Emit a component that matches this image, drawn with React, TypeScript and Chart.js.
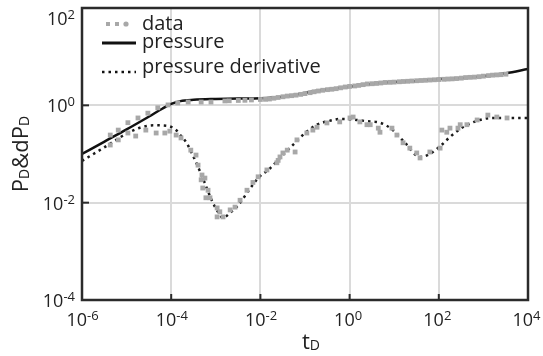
import React, { useEffect, useRef } from 'react';
import { Chart, registerables } from 'chart.js';

Chart.register(...registerables);

// ---- axes ----
const X_TICKS = [1e-6, 1e-4, 1e-2, 1e0, 1e2, 1e4];
const X_TICK_EXPONENTS = ['-6', '-4', '-2', '0', '2', '4'];
const Y_TICKS = [1e-4, 1e-2, 1e0, 1e2];
const Y_TICK_EXPONENTS = ['-4', '-2', '0', '2'];

// ---- model curves ----
const pressureT = [1e-6, 3.2e-6, 1e-5, 3.2e-5, 6.3e-5, 1e-4, 1.6e-4, 3.2e-4, 1e-3, 3.2e-3, 0.01, 0.032, 0.1, 0.32, 1, 3.2, 10, 32, 100, 320, 1000, 3200, 10000];
const pressureP = [0.1, 0.18, 0.32, 0.59, 0.85, 1.07, 1.22, 1.3, 1.35, 1.38, 1.4, 1.5, 1.8, 2.14, 2.4, 2.75, 3.0, 3.16, 3.47, 3.63, 4.0, 4.57, 5.6];

const derivT = [1e-6, 2.5e-6, 5e-6, 1e-5, 2e-5, 4e-5, 8e-5, 1.26e-4, 1.6e-4, 2.2e-4, 3.4e-4, 5.6e-4, 8.1e-4, 1.05e-3, 1.45e-3, 2.1e-3, 3.2e-3, 5e-3, 8.9e-3, 0.0166, 0.0275, 0.06, 0.1, 0.186, 0.355, 0.63, 1.26, 2.5, 4.8, 9.3, 17.4, 38, 63, 117, 178, 347, 830, 1660, 4570, 10000];
const derivP = [0.072, 0.12, 0.178, 0.263, 0.347, 0.389, 0.38, 0.316, 0.245, 0.17, 0.076, 0.026, 0.0112, 0.0071, 0.0049, 0.0062, 0.0089, 0.0158, 0.032, 0.051, 0.083, 0.17, 0.27, 0.4, 0.48, 0.525, 0.51, 0.47, 0.44, 0.31, 0.17, 0.087, 0.1, 0.155, 0.224, 0.355, 0.5, 0.55, 0.55, 0.55];

// ---- measured data ----
const dataPressureT = [4.3e-6, 6.5e-6, 1.07e-5, 1.8e-5, 3e-5, 5e-5, 8.5e-5, 1.4e-4, 2.4e-4, 4.7e-4, 7.8e-4, 1.6e-3, 2e-3, 3.2e-3, 4.5e-3, 6.3e-3, 0.01, 0.013, 0.016, 0.02, 0.025, 0.032, 0.04, 0.05, 0.063, 0.08, 0.1, 0.13, 0.16, 0.2, 0.25, 0.32, 0.4, 0.5, 0.63, 0.8, 1.0, 1.3, 1.6, 2, 2.5, 3.2, 4.0, 5, 6.3, 8, 10, 13, 16, 20, 25, 32, 40, 50, 63, 80, 100, 130, 160, 200, 250, 320, 400, 500, 630, 800, 1000, 1300, 1600, 2000, 2500, 3200];
const dataPressureP = [0.245, 0.31, 0.44, 0.55, 0.69, 0.89, 1.02, 1.12, 1.17, 1.17, 1.17, 1.23, 1.24, 1.26, 1.27, 1.29, 1.32, 1.33, 1.35, 1.4, 1.45, 1.5, 1.55, 1.58, 1.62, 1.68, 1.74, 1.82, 1.9, 1.97, 2.04, 2.1, 2.14, 2.2, 2.29, 2.38, 2.45, 2.5, 2.57, 2.66, 2.75, 2.78, 2.82, 2.88, 2.95, 2.97, 3.0, 3.05, 3.09, 3.12, 3.16, 3.2, 3.24, 3.27, 3.31, 3.35, 3.39, 3.43, 3.47, 3.5, 3.55, 3.62, 3.72, 3.76, 3.8, 3.88, 3.98, 4.08, 4.17, 4.22, 4.27, 4.37];

const dataDerivT = [4.3e-6, 6.5e-6, 1.07e-5, 1.6e-5, 2.7e-5, 4.6e-5, 7.2e-5, 9.3e-5, 1.29e-4, 1.66e-4, 2.75e-4, 3.6e-4, 4e-4, 4.7e-4, 4.9e-4, 5.1e-4, 5.7e-4, 6e-4, 6.7e-4, 7.4e-4, 1.07e-3, 1.07e-3, 1.23e-3, 1.45e-3, 2.1e-3, 2.7e-3, 3.5e-3, 5e-3, 6.8e-3, 8.9e-3, 0.014, 0.0234, 0.025, 0.0275, 0.032, 0.04, 0.06, 0.066, 0.11, 0.15, 0.186, 0.31, 0.6, 1.02, 1.2, 1.7, 2.45, 2.9, 4.4, 4.8, 8.9, 11.5, 15.8, 22.4, 32, 38, 63, 107, 117, 151, 178, 269, 302, 427, 724, 1260, 2000, 3390];
const dataDerivP = [0.153, 0.195, 0.27, 0.234, 0.31, 0.27, 0.27, 0.295, 0.245, 0.214, 0.12, 0.095, 0.059, 0.0295, 0.037, 0.02, 0.032, 0.0126, 0.018, 0.0126, 0.0078, 0.0051, 0.0065, 0.0051, 0.0071, 0.0081, 0.0112, 0.018, 0.026, 0.034, 0.047, 0.066, 0.074, 0.087, 0.105, 0.12, 0.11, 0.195, 0.27, 0.31, 0.355, 0.435, 0.457, 0.55, 0.575, 0.457, 0.4, 0.4, 0.34, 0.28, 0.34, 0.245, 0.17, 0.132, 0.105, 0.083, 0.11, 0.132, 0.31, 0.28, 0.34, 0.34, 0.4, 0.4, 0.5, 0.63, 0.575, 0.55];

// ---- text ----
const LEGEND_LABELS = ['data', 'pressure', 'pressure derivative'];
const X_TITLE: [string, boolean][] = [['t', false], ['D', true]];
const Y_TITLE: [string, boolean][] = [['P', false], ['D', true], ['&dP', false], ['D', true]];

const FONT = '"Open Sans", "DejaVu Sans", sans-serif';
const TEXT_COLOR = '#222';
const DATA_COLOR = '#a8a8a8';

const zip = (xs: number[], ys: number[]) => xs.map((x, i) => ({ x, y: ys[i] }));

function drawPower(ctx: CanvasRenderingContext2D, left: number, baseline: number, exp: string) {
  ctx.font = `18px ${FONT}`;
  ctx.textAlign = 'left';
  ctx.textBaseline = 'alphabetic';
  ctx.fillText('10', left, baseline);
  const w = ctx.measureText('10').width;
  ctx.font = `13px ${FONT}`;
  ctx.fillText(exp, left + w, baseline - 6);
}

function powerWidth(ctx: CanvasRenderingContext2D, exp: string) {
  ctx.font = `18px ${FONT}`;
  const w1 = ctx.measureText('10').width;
  ctx.font = `13px ${FONT}`;
  return w1 + ctx.measureText(exp).width;
}

function drawSubText(ctx: CanvasRenderingContext2D, parts: [string, boolean][], x: number, baseline: number, big: number, small: number, measureOnly = false) {
  let cx = x;
  for (const [s, sub] of parts) {
    ctx.font = `${sub ? small : big}px ${FONT}`;
    if (!measureOnly) ctx.fillText(s, cx, baseline + (sub ? 1 : 0));
    cx += ctx.measureText(s).width;
  }
  return cx - x;
}

const decorPlugin = {
  id: 'decor',
  afterDraw(chart: any) {
    const ctx: CanvasRenderingContext2D = chart.ctx;
    const a = chart.chartArea;
    const xs = chart.scales.x;
    const ys = chart.scales.y;
    ctx.save();

    // frame
    ctx.strokeStyle = '#2b2b2b';
    ctx.lineWidth = 2.5;
    ctx.strokeRect(a.left, a.top, a.right - a.left, a.bottom - a.top);

    // inward tick marks
    ctx.lineWidth = 2;
    X_TICKS.forEach((v) => {
      const x = xs.getPixelForValue(v);
      ctx.beginPath();
      ctx.moveTo(x, a.bottom);
      ctx.lineTo(x, a.bottom - 6);
      ctx.stroke();
    });
    Y_TICKS.forEach((v) => {
      const y = ys.getPixelForValue(v);
      ctx.beginPath();
      ctx.moveTo(a.left, y);
      ctx.lineTo(a.left + 7, y);
      ctx.stroke();
    });

    // tick labels
    ctx.fillStyle = TEXT_COLOR;
    X_TICKS.forEach((v, i) => {
      const x = xs.getPixelForValue(v);
      drawPower(ctx, x - 15.5, a.bottom + 26, X_TICK_EXPONENTS[i]);
    });
    Y_TICKS.forEach((v, i) => {
      const y = ys.getPixelForValue(v);
      const w = powerWidth(ctx, Y_TICK_EXPONENTS[i]);
      drawPower(ctx, a.left - 7 - w, Math.max(25, y + 7), Y_TICK_EXPONENTS[i]);
    });

    // x title
    const xw = drawSubText(ctx, X_TITLE, 0, 0, 22, 14, true);
    drawSubText(ctx, X_TITLE, (a.left + a.right) / 2 + 6 - xw / 2, 349, 22, 14);

    // y title (rotated)
    ctx.save();
    const yw = drawSubText(ctx, Y_TITLE, 0, 0, 22, 14, true);
    ctx.translate(28, (a.top + a.bottom) / 2);
    ctx.rotate(-Math.PI / 2);
    drawSubText(ctx, Y_TITLE, -yw / 2, 0, 22, 14);
    ctx.restore();

    // legend
    const lx = 142;
    ctx.font = `20px ${FONT}`;
    ctx.fillStyle = TEXT_COLOR;
    ctx.textAlign = 'left';
    ctx.fillText(LEGEND_LABELS[0], lx, 30);
    ctx.fillText(LEGEND_LABELS[1], lx, 48);
    ctx.fillText(LEGEND_LABELS[2], lx, 73);

    ctx.fillStyle = DATA_COLOR;
    ctx.fillRect(106, 22, 4, 4);
    ctx.fillRect(115, 22, 4, 4);
    ctx.beginPath();
    ctx.arc(126, 24, 2.6, 0, Math.PI * 2);
    ctx.fill();

    ctx.strokeStyle = '#111';
    ctx.lineWidth = 3;
    ctx.setLineDash([]);
    ctx.beginPath();
    ctx.moveTo(102, 43);
    ctx.lineTo(136, 43);
    ctx.stroke();

    ctx.lineWidth = 2.5;
    ctx.setLineDash([2.5, 4]);
    ctx.beginPath();
    ctx.moveTo(102, 72);
    ctx.lineTo(136, 72);
    ctx.stroke();

    ctx.restore();
  },
};

export default function App() {
  const ref = useRef<HTMLCanvasElement | null>(null);

  useEffect(() => {
    if (!ref.current) return;
    const chart = new Chart(ref.current, {
      type: 'scatter',
      data: {
        datasets: [
          {
            label: 'data',
            data: zip(dataPressureT, dataPressureP),
            showLine: false,
            pointStyle: 'rect',
            pointRadius: 3.4,
            pointBackgroundColor: DATA_COLOR,
            pointBorderWidth: 0,
            order: 0,
          },
          {
            label: 'data',
            data: zip(dataDerivT, dataDerivP),
            showLine: false,
            pointStyle: 'rect',
            pointRadius: 3.4,
            pointBackgroundColor: DATA_COLOR,
            pointBorderWidth: 0,
            order: 0,
          },
          {
            label: 'pressure',
            data: zip(pressureT, pressureP),
            showLine: true,
            borderColor: '#111',
            borderWidth: 2.5,
            pointRadius: 0,
            cubicInterpolationMode: 'monotone',
            order: 2,
          },
          {
            label: 'pressure derivative',
            data: zip(derivT, derivP),
            showLine: true,
            borderColor: '#1a1a1a',
            borderWidth: 2.5,
            borderDash: [2.5, 4],
            pointRadius: 0,
            cubicInterpolationMode: 'monotone',
            order: 1,
          },
        ],
      },
      options: {
        animation: false,
        responsive: false,
        devicePixelRatio: 1,
        layout: { padding: { left: 0, top: 8, right: 15, bottom: 0 } },
        plugins: { legend: { display: false }, tooltip: { enabled: false } },
        scales: {
          x: {
            type: 'logarithmic',
            min: 1e-6,
            max: 1e4,
            afterBuildTicks: (s: any) => {
              s.ticks = X_TICKS.map((value) => ({ value }));
            },
            afterFit: (s: any) => {
              s.height = 56;
            },
            ticks: { display: false },
            grid: { color: '#dadada', lineWidth: 2, drawTicks: false },
            border: { display: false },
          },
          y: {
            type: 'logarithmic',
            min: 1e-4,
            max: 1e2,
            afterBuildTicks: (s: any) => {
              s.ticks = Y_TICKS.map((value) => ({ value }));
            },
            afterFit: (s: any) => {
              s.width = 82;
            },
            ticks: { display: false },
            grid: { color: '#dadada', lineWidth: 2, drawTicks: false },
            border: { display: false },
          },
        },
      },
      plugins: [decorPlugin],
    } as any);
    return () => chart.destroy();
  }, []);

  return (
    <div style={{ position: 'absolute', left: 0, top: 0, width: 543, height: 356, background: '#fff' }}>
      <canvas ref={ref} width={543} height={356} />
    </div>
  );
}
